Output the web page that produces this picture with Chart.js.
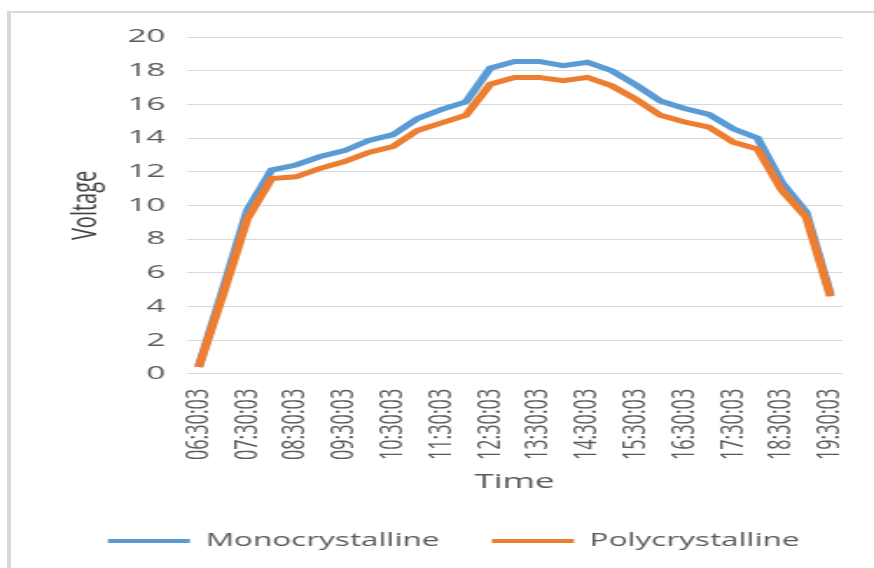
<!DOCTYPE html>
<html>
<head>
<meta charset="utf-8">
<script src="https://cdn.jsdelivr.net/npm/chart.js@4.4.1/dist/chart.umd.min.js"></script>
<style>
  html, body { margin: 0; padding: 0; background: #fff; overflow: hidden; }
  #frame { position: absolute; left: 7px; top: 11px; width: 900px; height: 600px;
           border-left: 4px solid #d9d9d9; border-top: 2px solid #d9d9d9; }
  #wrap { position: absolute; left: 0; top: 0; width: 500px; height: 568px;
          transform: scaleX(1.748); transform-origin: 0 0; }
</style>
</head>
<body>
<div id="frame"></div>
<div id="wrap"><canvas id="voltChart" width="500" height="568"></canvas></div>
<script>
// half-hourly readings, only the full-hour labels get shown on the axis
const times = [
  '06:30:03', '07:00:03', '07:30:03', '08:00:03', '08:30:03', '09:00:03', '09:30:03',
  '10:00:03', '10:30:03', '11:00:03', '11:30:03', '12:00:03', '12:30:03', '13:00:03',
  '13:30:03', '14:00:03', '14:30:03', '15:00:03', '15:30:03', '16:00:03', '16:30:03',
  '17:00:03', '17:30:03', '18:00:03', '18:30:03', '19:00:03', '19:30:03'
];
const mono = [0.4, 5.0, 9.7, 12.1, 12.4, 12.9, 13.25, 13.85, 14.2, 15.15, 15.7, 16.15, 18.15, 18.55,
  18.55, 18.3, 18.5, 18.0, 17.15, 16.2, 15.75, 15.4, 14.55, 14.0, 11.35, 9.6, 4.7];
const poly = [0.4, 4.7, 9.2, 11.6, 11.7, 12.2, 12.6, 13.15, 13.5, 14.45, 14.9, 15.35, 17.2, 17.6,
  17.6, 17.4, 17.6, 17.1, 16.3, 15.35, 14.95, 14.65, 13.75, 13.35, 10.9, 9.3, 4.6];
const yTicks = [0, 2, 4, 6, 8, 10, 12, 14, 16, 18, 20];

const grey = '#595959';
const font = 'Open Sans';

const ctx = document.getElementById('voltChart').getContext('2d');
new Chart(ctx, {
  type: 'line',
  data: {
    labels: times,
    datasets: [
      { label: 'Monocrystalline', data: mono, borderColor: '#5B9BD5', backgroundColor: '#5B9BD5',
        borderWidth: 5, pointRadius: 0, tension: 0, order: 2 },
      { label: 'Polycrystalline', data: poly, borderColor: '#ED7D31', backgroundColor: '#ED7D31',
        borderWidth: 5, pointRadius: 0, tension: 0, order: 1 }
    ]
  },
  options: {
    responsive: false,
    animation: false,
    devicePixelRatio: 1,
    layout: { padding: { top: 37, left: 27, right: 8, bottom: 8 } },
    plugins: {
      tooltip: { enabled: false },
      legend: {
        position: 'bottom',
        labels: {
          color: grey,
          font: { family: font, size: 18 },
          boxWidth: 47,
          boxHeight: 4,
          padding: 30,
          sort: (a, b) => a.datasetIndex - b.datasetIndex,
          generateLabels(chart) {
            const items = Chart.defaults.plugins.legend.labels.generateLabels(chart);
            items.forEach(it => { it.lineWidth = 0; });
            return items;
          }
        }
      }
    },
    scales: {
      x: {
        offset: true,
        grid: { display: false },
        border: { display: false },
        ticks: {
          color: grey,
          font: { family: font, size: 18 },
          autoSkip: false,
          minRotation: 90,
          maxRotation: 90,
          padding: 7,
          callback(val, idx) { return idx % 2 === 0 ? this.getLabelForValue(val) : ''; }
        },
        // the offset already leaves room for the end labels
        afterFit(scale) { scale.paddingLeft = 0; scale.paddingRight = 0; },
        title: { display: true, text: 'Time', color: grey, font: { family: font, size: 20 }, padding: { top: 3, bottom: 8 } }
      },
      y: {
        min: 0,
        max: 20,
        afterBuildTicks(axis) { axis.ticks = yTicks.map(v => ({ value: v })); },
        grid: { color: '#d9d9d9', lineWidth: 1, drawTicks: false },
        border: { display: false },
        ticks: { color: grey, font: { family: font, size: 19 }, padding: 12 },
        title: { display: true, text: 'Voltage', color: '#404040', font: { family: font, size: 20 }, padding: { top: 10, bottom: 0 } }
      },
      // empty strip on the right so the plot ends where the original does
      yRight: {
        position: 'right',
        grid: { display: false },
        border: { display: false },
        ticks: { display: false },
        afterFit(scale) { scale.width = 10; }
      }
    }
  }
});
</script>
</body>
</html>
